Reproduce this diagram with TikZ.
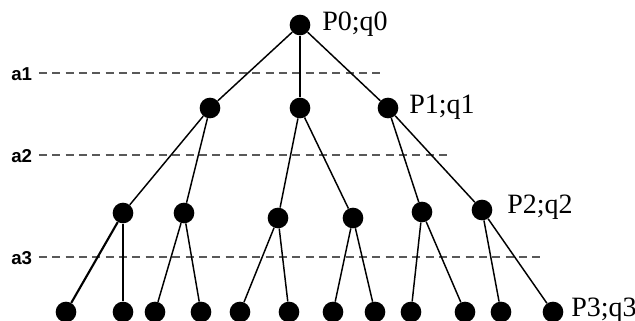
\documentclass[tikz,border=0pt]{standalone}
\usepackage{fontspec}
\setmainfont{Liberation Serif}
\newfontfamily\arialfont{Liberation Sans}
\begin{document}
\begin{tikzpicture}[x=0.75pt,y=-0.75pt,
  vtx/.style={circle,fill=black,inner sep=0pt,minimum size=15.5pt},
  edge/.style={line width=1.1pt},
  thick edge/.style={line width=1.6pt},
  level/.style={gray!70!black,line width=0.9pt,dash pattern=on 6pt off 4pt},
  lvl/.style={font=\arialfont\bfseries\fontsize{14}{16}\selectfont,anchor=west,inner sep=0pt},
  pq/.style={font=\fontsize{21}{24}\selectfont,anchor=west,inner sep=0pt}]
\useasboundingbox (0,0) rectangle (635,321);
% levels
\node[lvl] (a1) at (11,74) {a1};
\node[lvl] (a2) at (11,156) {a2};
\node[lvl] (a3) at (11,258) {a3};
\coordinate (e1) at (380,73);
\coordinate (e2) at (452,155);
\coordinate (e3) at (545,257);
\draw[level] ([xshift=5pt]a1.east |- e1) -- (e1);
\draw[level] ([xshift=5pt]a2.east |- e2) -- (e2);
\draw[level] ([xshift=5pt]a3.east |- e3) -- (e3);
% nodes
\node[vtx] (r) at (300,25) {};
\node[vtx] (n1) at (210,108) {};
\node[vtx] (n2) at (300,108) {};
\node[vtx] (n3) at (388,108) {};
\node[vtx] (m1) at (123,213) {};
\node[vtx] (m2) at (184,213) {};
\node[vtx] (m3) at (278,218) {};
\node[vtx] (m4) at (353,218) {};
\node[vtx] (m5) at (422,212) {};
\node[vtx] (m6) at (482,210) {};
\foreach \i/\x in {1/66,2/123,3/155,4/201,5/240,6/289,7/333,8/375,9/411,10/465,11/501,12/553}
  \node[vtx] (l\i) at (\x,312) {};
% edges
\draw[edge] (r) -- (n1); \draw[edge] (r) -- (n2); \draw[edge] (r) -- (n3);
\draw[edge] (n1) -- (m1); \draw[edge] (n1) -- (m2);
\draw[edge] (n2) -- (m3); \draw[edge] (n2) -- (m4);
\draw[edge] (n3) -- (m5); \draw[edge] (n3) -- (m6);
\draw[thick edge] (m1) -- (l1); \draw[thick edge] (m1) -- (l2);
\draw[edge] (m2) -- (l3); \draw[edge] (m2) -- (l4);
\draw[edge] (m3) -- (l5); \draw[edge] (m3) -- (l6);
\draw[edge] (m4) -- (l7); \draw[edge] (m4) -- (l8);
\draw[edge] (m5) -- (l9); \draw[edge] (m5) -- (l10);
\draw[edge] (m6) -- (l11); \draw[edge] (m6) -- (l12);
% labels
\node[pq] (t0) at (322,24) {P0;q0};
\node[pq] (t1) at (409,107) {P1;q1};
\node[pq] (t2) at (507,207) {P2;q2};
\node[pq] (t3) at (571,310) {P3;q3};
\end{tikzpicture}
\end{document}
